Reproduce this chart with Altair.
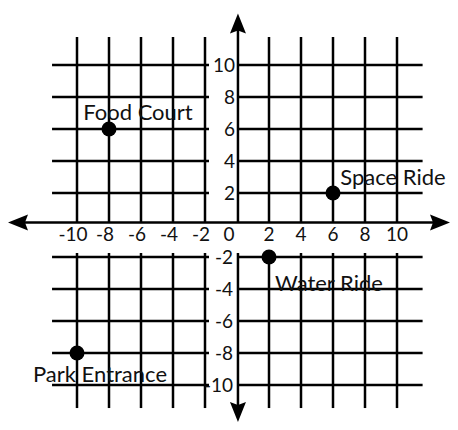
import altair as alt
import pandas as pd

# ---- data ----
pos_ticks = [2, 4, 6, 8, 10]
neg_ticks = [-10, -8, -6, -4, -2]
x_tick_labels_pos = ["2", "4", "6", "8", "10"]
x_tick_labels_neg = ["-10", "-8", "-6", "-4", "-2"]
places = ["Food Court", "Space Ride", "Water Ride", "Park Entrance"]
place_x = [-8, 6, 2, -10]
place_y = [6, 2, -2, -8]

# ---- layout constants (styling) ----
W, H = 442, 414
X_DOM = [-14.3125, 13.3125]
Y_DOM = [-12.3125, 13.5625]
AX_Y = 0.15      # x-axis line position
AX_X = 0.06      # y-axis line position
G_LEFT, G_RIGHT = -11.56, 11.6
G_TOP, G_BOT = 11.75, -11.44
G_INNER = -1.75
LW = 2.5
FONT = "Lato"

xs = alt.Scale(domain=X_DOM, nice=False, zero=False)
ys = alt.Scale(domain=Y_DOM, nice=False, zero=False)

segs = []
for x in neg_ticks + pos_ticks:
    segs.append((x, x, AX_Y, G_TOP))
    segs.append((x, x, G_INNER, G_BOT))
for y in pos_ticks + neg_ticks:
    segs.append((G_LEFT, G_INNER, y, y))
    segs.append((AX_X, G_RIGHT, y, y))
segs.append((X_DOM[0] + 1.0, X_DOM[1] - 1.0, AX_Y, AX_Y))
segs.append((AX_X, AX_X, AX_Y, Y_DOM[1] - 1.0))
segs.append((AX_X, AX_X, G_INNER, Y_DOM[0] + 1.0))
seg_df = pd.DataFrame(segs, columns=["x1", "x2", "y1", "y2"])

rules = alt.Chart(seg_df).mark_rule(color="black", strokeWidth=LW).encode(
    x=alt.X("x1:Q", scale=xs, axis=None),
    x2="x2:Q",
    y=alt.Y("y1:Q", scale=ys, axis=None),
    y2="y2:Q",
)

arrows = []
arrow_defs = [
    (AX_X, Y_DOM[1] - 0.35, "M0,0L0.8,2L0,1.7L-0.8,2Z"),
    (AX_X, Y_DOM[0], "M0,0L0.8,-2L0,-1.7L-0.8,-2Z"),
    (X_DOM[0], AX_Y, "M0,0L2,-0.8L1.7,0L2,0.8Z"),
    (X_DOM[1], AX_Y, "M0,0L-2,-0.8L-1.7,0L-2,0.8Z"),
]
for ax, ay, shp in arrow_defs:
    arrows.append(
        alt.Chart(pd.DataFrame({"x": [ax], "y": [ay]}))
        .mark_point(shape=shp, size=400, filled=True, color="black", opacity=1, strokeWidth=0)
        .encode(x=alt.X("x:Q", scale=xs), y=alt.Y("y:Q", scale=ys))
    )

xl_pos = pd.DataFrame({"v": pos_ticks, "t": x_tick_labels_pos})
xl_neg = pd.DataFrame({"v": neg_ticks, "t": x_tick_labels_neg})
zero_df = pd.DataFrame({"v": [0], "t": ["0"]})

def tlabel(df, xf, yf, **kw):
    return alt.Chart(df).mark_text(font=FONT, fontSize=19, color="#111", **kw).encode(
        x=alt.X(xf, scale=xs), y=alt.Y(yf, scale=ys), text="t:N"
    )

XL_Y = -0.62
xlp = tlabel(xl_pos.assign(yy=XL_Y), "v:Q", "yy:Q", align="center", baseline="middle")
xln = tlabel(xl_neg.assign(yy=XL_Y), "v:Q", "yy:Q", align="center", baseline="middle", dx=-4)
x0 = tlabel(zero_df.assign(yy=XL_Y), "v:Q", "yy:Q", align="center", baseline="middle", dx=-8)
ylp = tlabel(xl_pos.assign(xx=-0.12), "xx:Q", "v:Q", align="right", baseline="middle", dy=1)
yln = tlabel(xl_neg.assign(xx=-0.25), "xx:Q", "v:Q", align="right", baseline="middle", dy=1)

pts_df = pd.DataFrame({"name": places, "x": place_x, "y": place_y})
pts = alt.Chart(pts_df).mark_circle(size=225, color="black", opacity=1).encode(
    x=alt.X("x:Q", scale=xs), y=alt.Y("y:Q", scale=ys)
)

label_offsets = {
    "Food Court": (29, -16),
    "Space Ride": (60, -15),
    "Water Ride": (60, 27),
    "Park Entrance": (23, 22),
}
name_layers = []
for nm in places:
    dxo, dyo = label_offsets[nm]
    name_layers.append(
        alt.Chart(pts_df[pts_df.name == nm]).mark_text(
            font=FONT, fontSize=22, color="#111", align="center", baseline="middle", dx=dxo, dy=dyo
        ).encode(x=alt.X("x:Q", scale=xs), y=alt.Y("y:Q", scale=ys), text="name:N")
    )

chart = alt.layer(rules, *arrows, xlp, xln, x0, ylp, yln, pts, *name_layers).properties(
    width=W, height=H, padding=0, autosize=alt.AutoSizeParams(type="none"), background="white"
).configure_view(stroke=None)

chart.save("out.html", embed_options={"renderer": "svg", "actions": False})
